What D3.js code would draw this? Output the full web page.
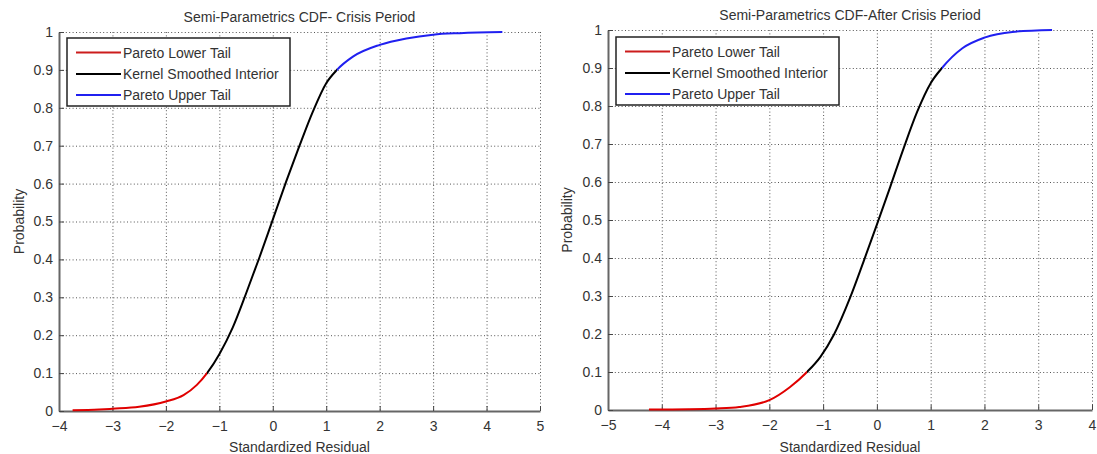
<!DOCTYPE html>
<head>
    <meta charset="utf-8">
    <title>Semi-Parametrics CDF</title>
    <script src="https://d3js.org/d3.v7.min.js"></script>
    <style>
        body { margin: 0; background: #fff; }
        text { font-family: "Liberation Sans", Arial, sans-serif; fill: #333; }
    </style>
</head>
<body>
    <div id="container"></div>
    <script>
        //------------------------1. DATA------------------------//
        // [standardized residual, probability]
        var crisisLower = [[-3.75, 0.002], [-3.25, 0.004], [-3, 0.006], [-2.5, 0.011], [-2, 0.025],
            [-1.67, 0.042], [-1.42, 0.069], [-1.23, 0.1]];
        var crisisInterior = [[-1.23, 0.1], [-1, 0.15], [-0.75, 0.22], [-0.5, 0.31], [-0.25, 0.405],
            [0, 0.505], [0.25, 0.605], [0.5, 0.7], [0.75, 0.79], [1, 0.865], [1.2, 0.9]];
        var crisisUpper = [[1.2, 0.9], [1.5, 0.935], [2, 0.966], [2.5, 0.983], [3, 0.993], [3.5, 0.997], [4.3, 1.0]];

        var afterLower = [[-4.24, 0.001], [-3.5, 0.002], [-3, 0.004], [-2.56, 0.008], [-2, 0.026],
            [-1.62, 0.06], [-1.3, 0.1]];
        var afterInterior = [[-1.3, 0.1], [-1.05, 0.14], [-0.8, 0.198], [-0.5, 0.295], [-0.25, 0.39],
            [0, 0.488], [0.25, 0.588], [0.5, 0.69], [0.75, 0.785], [1, 0.86], [1.21, 0.9]];
        var afterUpper = [[1.21, 0.9], [1.59, 0.952], [2, 0.98], [2.52, 0.995], [3.26, 1.0]];

        var crisisXTicks = [-4, -3, -2, -1, 0, 1, 2, 3, 4, 5];
        var afterXTicks = [-5, -4, -3, -2, -1, 0, 1, 2, 3, 4];
        var yTicks = [0, 0.1, 0.2, 0.3, 0.4, 0.5, 0.6, 0.7, 0.8, 0.9, 1];

        var seriesNames = ["Pareto Lower Tail", "Kernel Smoothed Interior", "Pareto Upper Tail"];
        var seriesColors = ["#e00000", "#000000", "#2020f0"];
        var legendColors = ["#cc1c1c", "#000000", "#2020f0"];

        var panels = [
            { id: "crisis", title: "Semi-Parametrics CDF- Crisis Period", xTicks: crisisXTicks,
              series: [crisisLower, crisisInterior, crisisUpper],
              left: 59, right: 540, top: 32, bottom: 411, yLabelX: 24, legendY: 38 },
            { id: "after", title: "Semi-Parametrics CDF-After Crisis Period", xTicks: afterXTicks,
              series: [afterLower, afterInterior, afterUpper],
              left: 608, right: 1092, top: 30, bottom: 410, yLabelX: 572, legendY: 37 }
        ];

        //------------------------2. DRAW------------------------//
        var svg = d3.select("#container").append("svg")
            .attr("width", 1097)
            .attr("height", 454);
        var defs = svg.append("defs");

        function drawPanel(p) {
            var w = p.right - p.left,
                h = p.bottom - p.top;

            var xScale = d3.scaleLinear()
                .domain(d3.extent(p.xTicks))
                .range([0, w]);
            var yScale = d3.scaleLinear()
                .domain([0, 1])
                .range([h, 0]);

            var g = svg.append("g")
                .attr("transform", "translate(" + p.left + "," + p.top + ")");

            // dotted grid
            g.append("g")
                .attr("class", "grid")
                .call(d3.axisBottom(xScale).tickValues(p.xTicks).tickSize(h).tickFormat(""))
                .call(function (s) { s.select(".domain").remove(); });
            g.append("g")
                .attr("class", "grid")
                .call(d3.axisLeft(yScale).tickValues(yTicks).tickSize(-w).tickFormat(""))
                .call(function (s) { s.select(".domain").remove(); });
            g.selectAll(".grid line")
                .attr("stroke", "#555")
                .attr("stroke-width", 1)
                .attr("stroke-dasharray", "1,2.4");

            // axes (ticks point inward, like the original)
            var xAxis = g.append("g")
                .attr("transform", "translate(0," + h + ")")
                .call(d3.axisBottom(xScale).tickValues(p.xTicks).tickSizeInner(-5).tickSizeOuter(0).tickPadding(10));
            var yAxis = g.append("g")
                .call(d3.axisLeft(yScale).tickValues(yTicks).tickFormat(d3.format("")).tickSizeInner(-5).tickSizeOuter(0).tickPadding(6));

            [xAxis, yAxis].forEach(function (a) {
                a.select(".domain").attr("stroke", "#666").attr("stroke-width", 2);
                a.selectAll(".tick line").attr("stroke", "#444");
                a.selectAll(".tick text")
                    .style("font-size", "14px")
                    .attr("fill", "#333");
            });

            // curves: one smooth curve through all pieces, each piece shown in its own x range
            var all = [];
            p.series.forEach(function (s) {
                s.forEach(function (d) {
                    if (!all.length || all[all.length - 1][0] < d[0]) all.push(d);
                });
            });

            var line = d3.line()
                .x(function (d) { return xScale(d[0]); })
                .y(function (d) { return yScale(d[1]); })
                .curve(d3.curveMonotoneX);

            p.series.forEach(function (s, i) {
                var x0 = xScale(s[0][0]),
                    x1 = xScale(s[s.length - 1][0]);
                defs.append("clipPath")
                    .attr("id", "clip-" + p.id + "-" + i)
                    .append("rect")
                    .attr("x", x0)
                    .attr("y", -10)
                    .attr("width", x1 - x0)
                    .attr("height", h + 20);

                g.append("path")
                    .attr("class", "curve")
                    .attr("clip-path", "url(#clip-" + p.id + "-" + i + ")")
                    .attr("fill", "none")
                    .attr("stroke", seriesColors[i])
                    .attr("stroke-width", 2)
                    .attr("d", line(all));
            });

            // title and labels
            g.append("text")
                .attr("x", w / 2)
                .attr("y", -10)
                .attr("text-anchor", "middle")
                .style("font-size", "14px")
                .text(p.title);

            g.append("text")
                .attr("x", w / 2)
                .attr("y", 452 - p.top)
                .attr("text-anchor", "middle")
                .style("font-size", "14px")
                .text("Standardized Residual");

            g.append("text")
                .attr("transform", "rotate(-90)")
                .attr("x", -h / 2)
                .attr("y", p.yLabelX - p.left)
                .attr("text-anchor", "middle")
                .style("font-size", "14px")
                .text("Probability");

            // legend
            var lg = g.append("g")
                .attr("transform", "translate(8," + (p.legendY - p.top) + ")");

            lg.append("rect")
                .attr("width", 223)
                .attr("height", 68)
                .attr("fill", "#fff")
                .attr("stroke", "#222")
                .attr("stroke-width", 1.5);

            var rows = lg.selectAll(".legend")
                .data(seriesNames)
                .enter().append("g")
                .attr("class", "legend")
                .attr("transform", function (d, i) { return "translate(0," + [14.5, 36, 57][i] + ")"; });

            rows.append("line")
                .attr("x1", 9)
                .attr("x2", 54)
                .attr("stroke", function (d, i) { return legendColors[i]; })
                .attr("stroke-width", 2);

            rows.append("text")
                .attr("x", 56)
                .attr("y", 5)
                .style("font-size", "14px")
                .text(function (d) { return d; });
        }

        panels.forEach(drawPanel);
    </script>
</body>
